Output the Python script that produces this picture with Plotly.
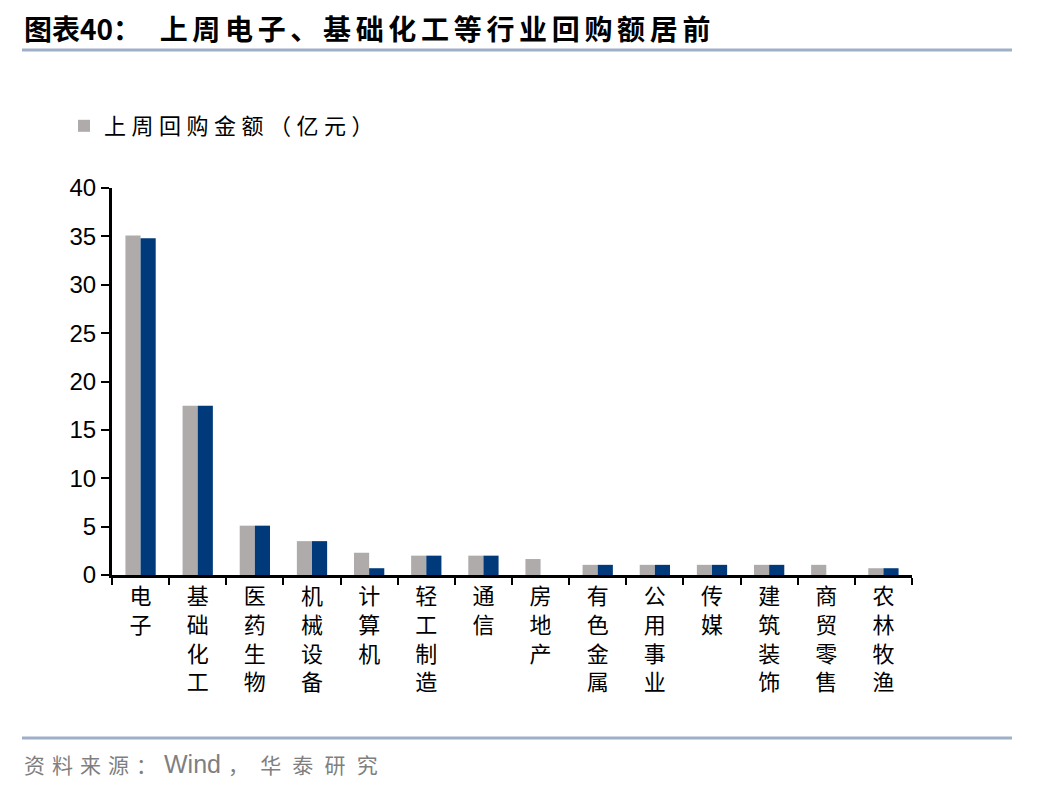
import plotly.graph_objects as go

categories = ["电子", "基础化工", "医药生物", "机械设备", "计算机", "轻工制造", "通信",
              "房地产", "有色金属", "公用事业", "传媒", "建筑装饰", "商贸零售", "农林牧渔"]
gray_values = [35.1, 17.5, 5.1, 3.5, 2.3, 2.0, 2.0, 1.65, 1.05, 1.05, 1.05, 1.05, 1.05, 0.7]
blue_values = [34.8, 17.5, 5.1, 3.5, 0.7, 2.0, 2.0, 0.0, 1.05, 1.05, 1.05, 1.05, 0.0, 0.7]
y_ticks = [0, 5, 10, 15, 20, 25, 30, 35, 40]

labels = ["<br>".join(list(c)) for c in categories]

OFF = 8  # browser default body margin
W, H = 1048 - OFF, 792 - OFF
L, R, T, B = 112 - OFF, 912 - OFF, 188 - OFF, 575 - OFF


def px(x):
    return (x - OFF - L) / (R - L)


def py(y):
    return (B - (y - OFF)) / (B - T)


def spaced(s, sp="\u2006"):
    return sp.join(list(s))


fig = go.Figure()
fig.add_trace(go.Bar(x=labels, y=gray_values, name=spaced("上周回购金额（亿元）", "\u2005"),
                     marker=dict(color="#AFABAB", line=dict(width=0))))
fig.add_trace(go.Bar(x=labels, y=blue_values, name="上周回购金额", showlegend=False,
                     marker=dict(color="#003A7A", line=dict(width=0))))

fig.update_layout(
    width=W, height=H,
    margin=dict(l=L, r=W - R, t=T, b=H - B, autoexpand=False),
    paper_bgcolor="white", plot_bgcolor="white",
    barmode="group", bargap=0.47, bargroupgap=0,
    font=dict(family="Liberation Sans, Arial, Noto Sans CJK SC", color="black"),
    showlegend=True,
    legend=dict(x=px(64), y=py(126), xanchor="left", yanchor="middle",
                font=dict(size=22, family="Noto Sans CJK SC"),
                itemwidth=30, bgcolor="rgba(0,0,0,0)"),
    xaxis=dict(
        showline=True, linecolor="black", linewidth=3,
        ticks="outside", ticklen=7, tickwidth=2, tickcolor="black",
        tickson="boundaries", showgrid=False,
        tickfont=dict(size=22, family="Noto Sans CJK SC", color="black"),
        tickangle=0,
    ),
    yaxis=dict(
        range=[0, 40], tickvals=y_ticks, showline=True, linecolor="black", linewidth=3,
        ticks="outside", ticklen=8, tickwidth=2, tickcolor="black",
        showgrid=False, zeroline=False,
        tickfont=dict(size=24, family="Liberation Sans, Arial"),
    ),
)

shape_color = "#9DB0C8"
fig.add_shape(type="line", xref="paper", yref="paper", x0=px(22), x1=px(1012),
              y0=py(50), y1=py(50), line=dict(color=shape_color, width=3))
fig.add_shape(type="line", xref="paper", yref="paper", x0=px(22), x1=px(1012),
              y0=py(738), y1=py(738), line=dict(color=shape_color, width=3))

fig.add_annotation(xref="paper", yref="paper", x=px(22), y=py(28), xanchor="left",
                   yanchor="middle", showarrow=False,
                   text="<b>图表40：" + "\u2002\u2006" + spaced("上周电子、基础化工等行业回购额居前") + "</b>",
                   font=dict(size=28, family="Noto Sans CJK SC", color="black"))
fig.add_annotation(xref="paper", yref="paper", x=px(22), y=py(764), xanchor="left",
                   yanchor="middle", showarrow=False,
                   text=spaced("资料来源：", "\u2004") + "\u2004"
                        + "<span style='font-family:Liberation Sans, Arial; font-size:25px'>Wind</span>"
                        + "\u2004" + spaced("，华泰研究", "\u2003"[0:0] + "\u2004\u2009"),
                   font=dict(size=21, family="Noto Sans CJK SC", color="#7F7F7F"))

fig.write_html("out.html")
